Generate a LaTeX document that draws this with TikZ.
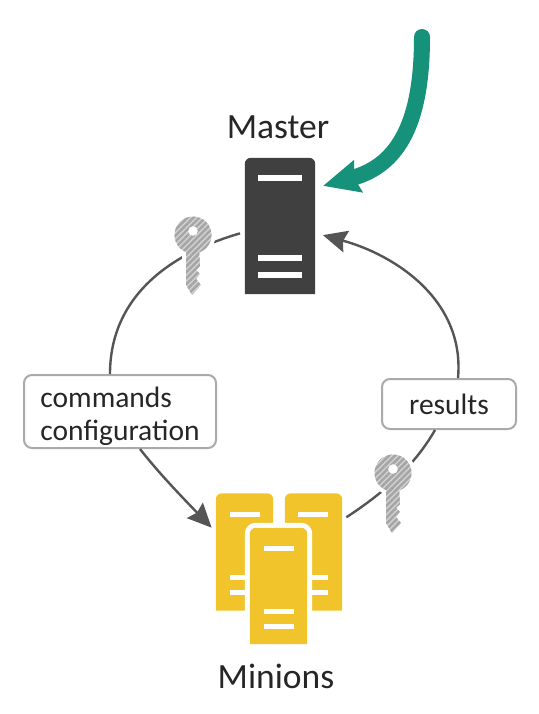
\documentclass[tikz,border=0pt]{standalone}
\usepackage{fontspec}
\setmainfont{Carlito}
\usetikzlibrary{positioning,arrows.meta,calc,patterns.meta}
\definecolor{saltDark}{RGB}{64,64,64}
\definecolor{saltYellow}{RGB}{242,196,44}
\definecolor{saltGreen}{RGB}{22,145,122}
\definecolor{saltGray}{RGB}{85,85,85}
\definecolor{saltEdge}{RGB}{170,170,170}
\definecolor{saltKey}{RGB}{165,165,165}
\definecolor{saltKeyLight}{RGB}{208,208,208}
\tikzset{
  title/.style={font=\fontsize{35.5}{38}\selectfont,text=black!85,inner sep=0pt},
  tag/.style={draw=saltEdge,line width=2pt,rounded corners=8pt,fill=white,inner sep=0pt,
    font=\fontsize{29.5}{33}\selectfont,text=black!85,align=left},
  server/.style={inner sep=0pt,minimum width=#1},
  flow/.style={saltGray,line width=2.4pt},
  bar/.style={fill=white},
  pics/key/.style={code={
    \fill[white,draw=white,line width=8pt] (0,0) circle (18.5);
    \fill[white,draw=white,line width=8pt] (-7,14) -- (-7,50) -- (-1,60) -- (8,50) -- (3,44) -- (7,39) -- (3,35) -- (7,31) -- (6,14) -- cycle;
    \fill[saltKeyLight,even odd rule] (0,0) circle (18.5) (0,-4) circle (5);
    \fill[saltKeyLight] (-7,14) -- (-7,50) -- (-1,60) -- (8,50) -- (3,44) -- (7,39) -- (3,35) -- (7,31) -- (6,14) -- cycle;
    \path[pattern={Lines[angle=45,distance=4.2pt,line width=2.4pt]},pattern color=saltKey,even odd rule]
      (0,0) circle (18.5) (0,-4) circle (5);
    \path[pattern={Lines[angle=45,distance=4.2pt,line width=2.4pt]},pattern color=saltKey]
      (-7,14) -- (-7,50) -- (-1,60) -- (8,50) -- (3,44) -- (7,39) -- (3,35) -- (7,31) -- (6,14) -- cycle;
  }}
}
% server with rounded top corners
\newcommand{\serverfill}[2]{
  \fill[#2,rounded corners=6pt] (#1.south west) [sharp corners] -- (#1.south west) [rounded corners=6pt] -- (#1.north west) -- (#1.north east) [sharp corners] -- (#1.south east) -- cycle;
}
\begin{document}
\begin{tikzpicture}[x=1pt,y=-1pt]
  \useasboundingbox (0,0) rectangle (538,714);
  % master
  \node[server=70pt,minimum height=136pt] (master) at (280,226) {};
  \serverfill{master}{saltDark}
  \foreach \y in {178,258,275}
    \fill[bar] (258,\y-3) rectangle (302,\y+3);
  \node[title] (mastertext) at (278,127) {Master};
  % minions
  \node[server=57pt,minimum height=117pt] (minionleft) at (244.5,552) {};
  \node[server=57pt,minimum height=117pt] (minionright) at (313.5,552) {};
  \node[server=57pt,minimum height=116pt] (minionfront) at (278.5,586) {};
  \serverfill{minionleft}{saltYellow}
  \serverfill{minionright}{saltYellow}
  \foreach \x in {230,298}
    \foreach \y in {514,577,592}
      \fill[bar] (\x,\y-2.5) rectangle (\x+30,\y+2.5);
  \draw[white,line width=10pt,rounded corners=6pt] (minionfront.south west) -- (minionfront.north west) -- (minionfront.north east) -- (minionfront.south east);
  \serverfill{minionfront}{saltYellow}
  \foreach \y in {548,611,626}
    \fill[bar] (264,\y-2.5) rectangle (294,\y+2.5);
  \node[title] (minionstext) at (276,676) {Minions};
  % labels
  \node[tag,minimum width=192pt,minimum height=73pt] (commands) at (120,411.5) {\rule{0pt}{30pt}commands\\configuration};
  \node[tag,minimum width=134pt,minimum height=50pt] (results) at (449,404) {results};
  % loop
  \draw[flow,shorten <=5pt] ([yshift=-6pt]master.west) .. controls (165,255) and (110,300) .. ([xshift=-10pt]commands.north);
  \draw[flow,shorten >=6pt,-{Stealth[length=24pt,width=22pt,inset=3pt]}] ([xshift=20pt]commands.south) .. controls (158,472) and (180,495) .. ([yshift=20pt]minionleft.west);
  \draw[flow,shorten <=5pt] ([yshift=32pt]minionright.east) .. controls (385,492) and (415,465) .. ([xshift=-14pt]results.south);
  \draw[flow,shorten >=8pt,-{Stealth[length=24pt,width=22pt,inset=3pt]}] ([xshift=9pt]results.north) .. controls (465,300) and (395,255) .. ([yshift=-7pt]master.east);
  % keys
  \pic at (193,235) {key};
  \pic at (393,473) {key};
  % incoming
  \coordinate (entry) at (422,37);
  \draw[saltGreen,line width=16pt,line cap=round,shorten >=8pt,-{Stealth[length=36pt,width=32pt,inset=4pt]}] (entry) .. controls (422,120) and (400,165) .. ([yshift=38pt]master.east);
\end{tikzpicture}
\end{document}
